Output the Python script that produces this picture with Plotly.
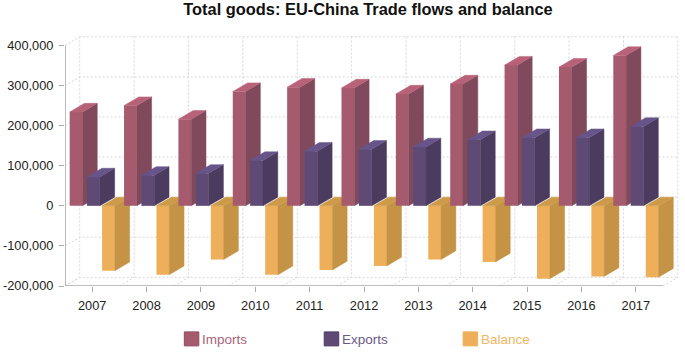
import plotly.graph_objects as go

years = [2007, 2008, 2009, 2010, 2011, 2012, 2013, 2014, 2015, 2016, 2017]
imports = [234000, 250000, 216000, 285000, 296000, 294000, 279000, 304000, 351000, 346000, 375000]
exports = [72000, 76000, 81000, 113000, 136000, 141000, 147000, 165000, 170000, 170000, 198000]
balance = [-162000, -172000, -134000, -172000, -160000, -150000, -134000, -140000, -182000, -176000, -178000]
y_ticks = [-200000, -100000, 0, 100000, 200000, 300000, 400000]
y_labels = ["-200,000", "-100,000", "0", "100,000", "200,000", "300,000", "400,000"]

W, H = 685, 356
L, R, T, B = 64.6, 685, 30.5, 286
PX_X = 54.4                     # pixels per category
PX_Y = (285.5 - 44.5) / 600000  # pixels per value unit
DX = 14.8 / PX_X
DY = 8.7 / PX_Y
X0 = years[0] - 0.5
X_RANGE = [X0, X0 + (R - L) / PX_X]
Y_RANGE = [-200000, -200000 + (B - T) / PX_Y]
BW = 12.8 / PX_X

series = [  # drawn back to front
    ("Balance", balance, 0.182, "#EEAF5A", "#C49345", "#CC9A48", "x2", "y2"),
    ("Imports", imports, -0.414, "#A65A6E", "#804A5C", "#B8627A", "x3", "y3"),
    ("Exports", exports, -0.094, "#5E4A74", "#4A3B5F", "#67558A", "x4", "y4"),
]

fig = go.Figure()

# grid: walls and floor
GRID = dict(color="#D6D6D6", width=1, dash="2px,2px")
gx, gy = [], []
for v in y_ticks:
    gx += [X0, X0 + DX, X0 + len(years) + DX, None]
    gy += [v, v + DY, v + DY, None]
for i in range(len(years) + 1):
    gx += [X0 + i, X0 + i + DX, X0 + i + DX, None]
    gy += [y_ticks[0], y_ticks[0] + DY, y_ticks[-1] + DY, None]
fig.add_trace(go.Scatter(x=gx, y=gy, mode="lines", line=GRID, hoverinfo="skip", showlegend=False))

# axis lines
fig.add_trace(go.Scatter(x=[X0, X0, X0 + len(years)], y=[y_ticks[-1], y_ticks[0], y_ticks[0]],
                         mode="lines", line=dict(color="#ABABAB", width=1.6),
                         hoverinfo="skip", showlegend=False))

for name, vals, off, front, side, top, xa, ya in series:
    sx, sy, tx, ty = [], [], [], []
    for yr, v in zip(years, vals):
        xl, xr = yr + off, yr + off + BW
        hi, lo = max(v, 0), min(v, 0)
        sx += [xr, xr + DX, xr + DX, xr, xr, None]
        sy += [lo, lo + DY, hi + DY, hi, lo, None]
        tx += [xl, xr, xr + DX, xl + DX, xl, None]
        ty += [hi, hi, hi + DY, hi + DY, hi, None]
    fig.add_trace(go.Bar(x=years, y=vals, name=name, width=BW, offset=off, marker=dict(color=front, line=dict(width=0)),
                         xaxis=xa, yaxis=ya, showlegend=False))
    for px_, py_, col in ((sx, sy, side), (tx, ty, top)):
        fig.add_trace(go.Scatter(x=px_, y=py_, mode="lines", fill="toself", fillcolor=col,
                                 line=dict(color=col, width=0.5), hoverinfo="skip",
                                 xaxis=xa, yaxis=ya, showlegend=False))

pw, ph = R - L, B - T
def px(x): return (x - L) / pw
def py(y): return (B - y) / ph

# legend
legend = [("Imports", 184, "#A65A6E", "#A9647A", "#8E4D62"),
          ("Exports", 324, "#5E4A74", "#6B5A85", "#4C3B60"),
          ("Balance", 463, "#EEAF5A", "#EEB662", "#EEAF5A")]
shapes, annots = [], []
for name, sx0, col, tcol, edge in legend:
    shapes.append(dict(type="rect", xref="paper", yref="paper", x0=px(sx0), x1=px(sx0 + 14.5),
                       y0=py(346), y1=py(332), fillcolor=col, line=dict(color=edge, width=1)))
    annots.append(dict(text=name, xref="paper", yref="paper", x=px(sx0 + 15.5), y=py(339.5),
                       xanchor="left", yanchor="middle", showarrow=False,
                       font=dict(size=13.5, color=tcol, family="Liberation Sans")))

axis_hidden = dict(visible=False, fixedrange=True)
fig.update_layout(
    width=W, height=H, autosize=False,
    margin=dict(l=L, r=W - R, t=T, b=H - B, pad=0),
    paper_bgcolor="white", plot_bgcolor="white",
    font=dict(family="Liberation Sans", color="#333333"),
    title=dict(text="<b>Total goods: EU-China Trade flows and balance</b>", x=368 / W, xanchor="center",
               y=1 - 9.5 / H, yanchor="middle", font=dict(size=16.4, color="#111111", family="Liberation Sans")),
    showlegend=False, shapes=shapes, annotations=annots,
    xaxis=dict(range=X_RANGE, tickvals=years, ticktext=[str(y) for y in years], showgrid=False, zeroline=False,
               showline=False, ticks="outside", ticklen=5, tickcolor="#ABABAB", tickwidth=1,
               ticklabelstandoff=3, tickfont=dict(size=12.8, color="#222222")),
    yaxis=dict(range=Y_RANGE, tickvals=y_ticks, ticktext=y_labels, showgrid=False, zeroline=False,
               showline=False, ticks="outside", ticklen=5, tickcolor="#ABABAB", tickwidth=1,
               ticklabelstandoff=3, tickfont=dict(size=12.8, color="#222222")),
)
for n in ("2", "3", "4"):
    fig.update_layout({f"xaxis{n}": dict(overlaying="x", range=X_RANGE, **axis_hidden),
                       f"yaxis{n}": dict(overlaying="y", range=Y_RANGE, **axis_hidden)})

fig.write_html("out.html", config={"displayModeBar": False},
               post_script="document.body.style.margin='0';document.documentElement.style.overflow='hidden';")
